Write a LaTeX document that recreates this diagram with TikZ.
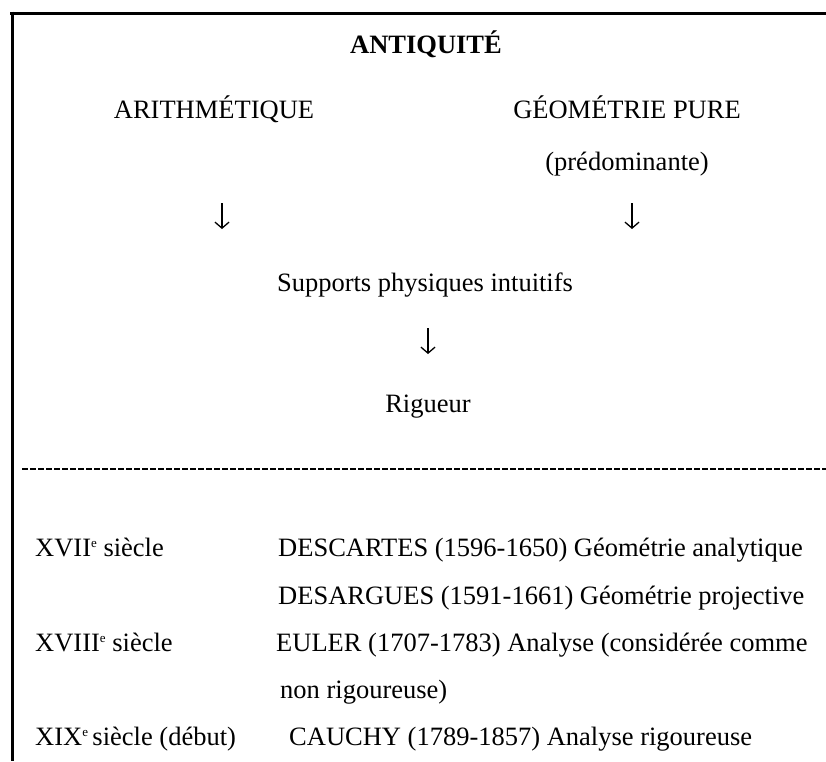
\documentclass[tikz,border=0pt]{standalone}
\usepackage{fontspec}
\setmainfont{Liberation Serif}
\usetikzlibrary{arrows.meta}
\newcommand{\supe}{\raisebox{9pt}{\fontsize{13}{13}\selectfont e}}
\begin{document}
\begin{tikzpicture}[x=1pt,y=-1pt,
  txt/.style={inner sep=0pt,font=\fontsize{26.5}{30}\selectfont},
  lft/.style={txt,anchor=base west},
  ctr/.style={txt,anchor=base},
  flow/.style={line width=1.3pt,-{Straight Barb[length=6pt,width=14pt,line width=1.3pt]}},
  frame/.style={line width=3pt},
  sep/.style={line width=2pt,dash pattern=on 6pt off 2pt}]
\useasboundingbox (0,0) rectangle (826,761);
\fill[white] (0,0) rectangle (826,761);
% frame
\coordinate (tl) at (10,13);
\coordinate (tr) at (826,13);
\coordinate (lt) at (12,11.5);
\coordinate (lb) at (12,761);
\draw[frame] (tl) -- (tr);
\draw[frame] (lt) -- (lb);
% title and upper flow
\node[ctr,font=\fontsize{26.5}{30}\selectfont\bfseries] (title) at (426,53) {ANTIQUITÉ};
\node[ctr] (arith) at (214,118) {ARITHMÉTIQUE};
\node[ctr] (geo) at (627,118) {GÉOMÉTRIE PURE};
\node[ctr] (pred) at (627,170) {(prédominante)};
\coordinate (a1t) at (222,203);
\coordinate (a1b) at (222,229);
\coordinate (a2t) at (632,203);
\coordinate (a2b) at (632,229);
\draw[flow] (a1t) -- (a1b);
\draw[flow] (a2t) -- (a2b);
\node[ctr] (supp) at (425,291) {Supports physiques intuitifs};
\coordinate (a3t) at (428,328);
\coordinate (a3b) at (428,354);
\draw[flow] (a3t) -- (a3b);
\node[ctr] (rig) at (428,412) {Rigueur};
% separator
\coordinate (sl) at (22,469);
\coordinate (sr) at (826,469);
\draw[sep] (sl) -- (sr);
% chronology
\node[lft] (c17) at (35,556) {XVII\supe\ siècle};
\node[lft] (desc) at (278,556) {DESCARTES (1596-1650) Géométrie analytique};
\node[lft] (desa) at (278,604) {DESARGUES (1591-1661) Géométrie projective};
\node[lft] (c18) at (35,651) {XVIII\supe\ siècle};
\node[lft] (euler) at (276,651) {EULER (1707-1783) Analyse (considérée comme};
\node[lft] (euler2) at (280,698) {non rigoureuse)};
\node[lft] (c19) at (35,745) {XIX\supe\,siècle (début)};
\node[lft] (cauchy) at (289,745) {CAUCHY (1789-1857) Analyse rigoureuse};
\end{tikzpicture}
\end{document}
